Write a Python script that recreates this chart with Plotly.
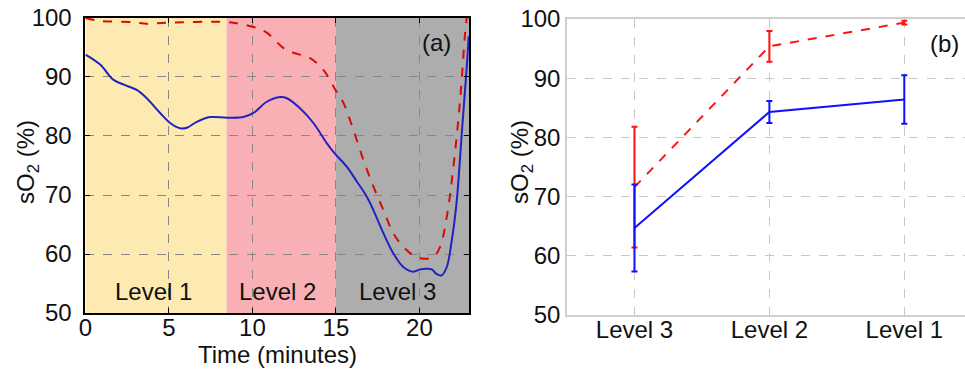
import plotly.graph_objects as go

# ---------------- Panel (a): time course ----------------
blue_t = [0, 0.88, 1.68, 2.48, 3.07, 3.67, 4.47, 5.07, 5.67, 6.07, 6.67, 7.47, 8.46, 9.46,
          10.06, 10.86, 11.66, 12.06, 12.85, 13.65, 14.45, 14.91, 15.65, 16.25, 16.85, 17.25,
          17.85, 18.44, 19.04, 19.64, 20.04, 20.44, 20.74, 21.04, 21.34, 21.64, 21.94, 22.24,
          22.54, 22.84, 22.95]
blue_s = [93.8, 92.1, 89.5, 88.5, 87.8, 86.4, 83.9, 82.2, 81.3, 81.4, 82.4, 83.2, 83.1, 83.2,
          83.9, 85.8, 86.6, 86.4, 84.7, 82.2, 78.8, 77.1, 74.8, 72.3, 69.7, 67.4,
          63.5, 60.1, 57.8, 57.0, 57.4, 57.5, 57.4, 56.6, 56.4, 57.8, 62.3, 69.1,
          80.5, 91.8, 96.9]

red_t = [0, 0.88, 2.87, 3.67, 4.87, 8.46, 9.26, 10.26, 10.86, 11.86, 12.45, 13.45, 14.25,
         14.91, 15.45, 16.05, 16.65, 17.25, 17.85, 18.44, 19.04, 19.64, 20.24, 20.84, 21.24,
         21.64, 22.04, 22.44, 22.74, 22.84]
red_s = [100.0, 99.5, 99.3, 99.0, 99.2, 99.3, 99.0, 98.3, 97.5, 94.9, 94.1, 93.2, 91.2,
         88.1, 85.6, 81.0, 75.9, 71.4, 67.4, 63.5, 61.2, 59.8, 59.2, 59.5, 61.2,
         66.3, 74.8, 86.1, 97.5, 100.0]

band_names = ["Level 1", "Level 2", "Level 3"]
band_edges = [0, 8.45, 15.0, 23.0]
band_colors = ["#FCEAB0", "#F9B0B4", "#ADADAD"]
band_label_x = [4.1, 11.5, 18.7]
band_label_y = 53.7

# ---------------- Panel (b): level means ----------------
levels = ["Level 3", "Level 2", "Level 1"]
red_mean = [71.6, 95.4, 99.4]
red_err = [10.2, 2.6, 0.3]
blue_mean = [64.7, 84.3, 86.4]
blue_err = [7.35, 1.85, 4.1]

FONT = "Liberation Sans, Arial, sans-serif"
FS = 24
YTITLE = "sO<sub>2</sub> (%)"

fig = go.Figure()

# panel a traces
fig.add_trace(go.Scatter(x=blue_t, y=blue_s, mode="lines", line=dict(color="#2222C0", width=2, shape="spline"),
                         xaxis="x", yaxis="y", showlegend=False, hoverinfo="skip"))
fig.add_trace(go.Scatter(x=red_t, y=red_s, mode="lines", line=dict(color="#D80A0A", width=2, dash="dash", shape="spline"),
                         xaxis="x", yaxis="y", showlegend=False, hoverinfo="skip"))

# panel b traces
xi = list(range(len(levels)))
fig.add_trace(go.Scatter(x=xi, y=red_mean, mode="lines", line=dict(color="#FF1010", width=2, dash="dash"),
                         error_y=dict(type="data", array=red_err, color="#FF1010", thickness=2, width=3),
                         xaxis="x2", yaxis="y2", showlegend=False, hoverinfo="skip"))
fig.add_trace(go.Scatter(x=xi, y=blue_mean, mode="lines", line=dict(color="#1010FF", width=2),
                         error_y=dict(type="data", array=blue_err, color="#1010FF", thickness=2, width=3),
                         xaxis="x2", yaxis="y2", showlegend=False, hoverinfo="skip"))

shapes = []
for i in range(3):
    shapes.append(dict(type="rect", xref="x", yref="y", x0=band_edges[i], x1=band_edges[i + 1],
                       y0=50, y1=100, fillcolor=band_colors[i], line=dict(width=0), layer="below"))

annotations = []
for name, bx in zip(band_names, band_label_x):
    annotations.append(dict(x=bx, y=band_label_y, xref="x", yref="y", text=name, showarrow=False,
                            font=dict(family=FONT, size=FS, color="#111")))
annotations.append(dict(x=21.0, y=95.8, xref="x", yref="y", text="(a)", showarrow=False,
                        font=dict(family=FONT, size=FS, color="#111")))
annotations.append(dict(x=2.3, y=95.8, xref="x2", yref="y2", text="(b)", showarrow=False,
                        font=dict(family=FONT, size=FS, color="#111")))
# y-axis titles
annotations.append(dict(x=28 / 965, y=0.567, xref="paper", yref="paper", text=YTITLE, textangle=-90,
                        showarrow=False, xanchor="center", yanchor="middle",
                        font=dict(family=FONT, size=FS, color="#111")))
annotations.append(dict(x=522 / 965, y=0.567, xref="paper", yref="paper", text=YTITLE, textangle=-90,
                        showarrow=False, xanchor="center", yanchor="middle",
                        font=dict(family=FONT, size=FS, color="#111")))

grid_dash = "dash"
fig.update_layout(
    template="none",
    width=965, height=374,
    margin=dict(l=0, r=0, t=0, b=0, autoexpand=False),
    paper_bgcolor="white", plot_bgcolor="white",
    font=dict(family=FONT, size=FS, color="#111"),
    shapes=shapes, annotations=annotations,
    xaxis=dict(domain=[0.0886, 0.4865], range=[0, 23], tickvals=[0, 5, 10, 15, 20],
               showgrid=True, gridcolor="#888", griddash=grid_dash, gridwidth=1,
               showline=True, linecolor="black", linewidth=2, mirror="ticks",
               ticks="inside", ticklen=5, tickcolor="black", zeroline=False, automargin=False,
               tickfont=dict(size=FS), anchor="y", ticklabelstandoff=-8, ticklabeloverflow="allow",
               title=dict(text="Time (minutes)", font=dict(size=FS), standoff=0)),
    yaxis=dict(domain=[0.163, 0.952], range=[50, 100], tickvals=[50, 60, 70, 80, 90, 100],
               showgrid=True, gridcolor="#888", griddash=grid_dash, gridwidth=1,
               showline=True, linecolor="black", linewidth=2, mirror="ticks",
               ticks="inside", ticklen=5, tickcolor="black", zeroline=False, automargin=False,
               tickfont=dict(size=FS), anchor="x", ticklabelstandoff=7, ticklabeloverflow="allow"),
    xaxis2=dict(domain=[0.5876, 1.0], range=[-0.5, 2.45], tickvals=xi, ticktext=levels,
                showgrid=True, gridcolor="#c8c8c8", griddash=grid_dash, gridwidth=1,
                showline=True, linecolor="#cfcfcf", linewidth=1.5, mirror=True,
                ticks="", zeroline=False, automargin=False, tickfont=dict(size=FS), anchor="y2",
                ticklabelstandoff=-7, ticklabeloverflow="allow"),
    yaxis2=dict(domain=[0.158, 0.949], range=[50, 100], tickvals=[50, 60, 70, 80, 90, 100],
                showgrid=True, gridcolor="#c8c8c8", griddash=grid_dash, gridwidth=1,
                showline=True, linecolor="#cfcfcf", linewidth=1.5, mirror=True,
                ticks="", zeroline=False, automargin=False, tickfont=dict(size=FS), anchor="x2",
                ticklabelstandoff=0, ticklabeloverflow="allow"),
)

fig.write_html("out.html", config={"displayModeBar": False},
               post_script="document.body.style.margin='0';document.body.style.padding='0';")
